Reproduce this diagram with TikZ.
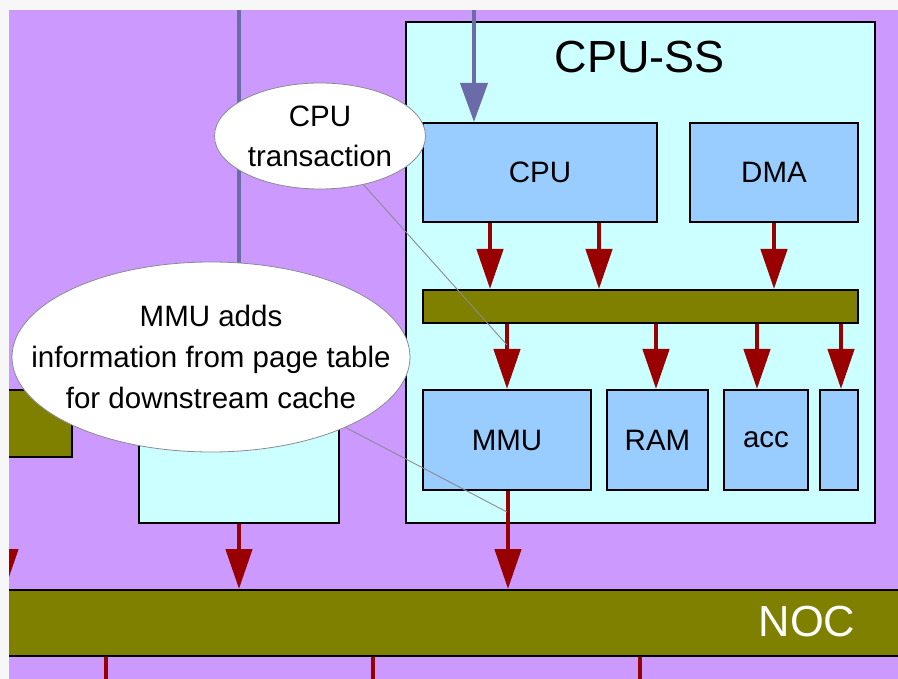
\documentclass[tikz,border=0pt]{standalone}
\usepackage{fontspec}
\setmainfont{Liberation Sans}
\usetikzlibrary{arrows.meta,shapes.geometric}
\definecolor{pagebg}{HTML}{F7F7F7}
\definecolor{lilac}{HTML}{CC99FF}
\definecolor{palecyan}{HTML}{CCFFFF}
\definecolor{skyblue}{HTML}{99CCFF}
\definecolor{olivebus}{HTML}{808000}
\definecolor{darkred}{HTML}{990000}
\definecolor{slate}{HTML}{6B6BA8}
\definecolor{notegray}{HTML}{8A8A95}
\begin{document}
\begin{tikzpicture}[x=1pt,y=-1pt,
  region/.style={draw=black, line width=2pt, fill=palecyan, inner sep=0pt},
  blk/.style={draw=black, line width=2pt, fill=skyblue, inner sep=0pt,
    font=\fontsize{29.5}{34}\selectfont},
  busbar/.style={draw=black, line width=2pt, fill=olivebus, inner sep=0pt},
  redarr/.style={draw=darkred, line width=4.5pt,
    -{Triangle[length=40pt,width=26pt]}},
  slatearr/.style={draw=slate, line width=4pt,
    -{Triangle[length=39pt,width=27pt]}},
  slateline/.style={draw=slate, line width=4pt},
  redline/.style={draw=darkred, line width=4.5pt},
  bubble/.style={ellipse, draw=notegray, line width=0.8pt, fill=white, inner sep=0pt},
  notetext/.style={align=center, inner sep=0pt},
  pointer/.style={draw=notegray, line width=0.9pt}]
\useasboundingbox (0,0) rectangle (898,679);
\fill[pagebg] (0,0) rectangle (898,679);
\begin{scope}
\clip (9,10) rectangle (898,679);
\fill[lilac] (9,10) rectangle (898,679);

% free ends of the incoming and outgoing lines
\coordinate (topL) at (239,10);
\coordinate (topC) at (474,10);
\coordinate (la) at (5,523);
\coordinate (b1) at (106,679);
\coordinate (b2) at (373,679);
\coordinate (b3) at (640,679);

% neighbouring blocks on the left
\node[region, minimum width=200pt, minimum height=193pt] (mem) at (239,426.5) {};
\node[busbar, minimum width=100pt, minimum height=67pt] (lbus) at (22,423.5) {};
\draw[slateline] (topL) -- (mem.north);

% CPU subsystem
\node[region, minimum width=469pt, minimum height=501pt] (cpuss) at (640.5,272.5) {};
\node[font=\fontsize{45}{50}\selectfont, inner sep=0pt] (sstitle) at (640,57) {CPU-SS};

\node[blk, minimum width=234pt, minimum height=99pt] (cpu) at (540,172.5) {CPU};
\node[blk, minimum width=168pt, minimum height=99pt] (dma) at (774,172.5) {DMA};
\node[busbar, minimum width=435pt, minimum height=33pt] (bus) at (640.5,306.5) {};
\node[blk, minimum width=168pt, minimum height=100pt] (mmu) at (507,440) {MMU};
\node[blk, minimum width=101pt, minimum height=100pt] (ram) at (657.5,440) {RAM};
\node[blk, minimum width=84pt, minimum height=100pt] (acc) at (766,440) {acc};
\node[blk, minimum width=38pt, minimum height=100pt] (ext) at (839,440) {};

\draw[slatearr] (topC) -- (474,0 |- cpu.north);

\draw[redarr] (490,0 |- cpu.south) -- (490,0 |- bus.north);
\draw[redarr] (599,0 |- cpu.south) -- (599,0 |- bus.north);
\draw[redarr] (774,0 |- dma.south) -- (774,0 |- bus.north);

\draw[redarr] (507,0 |- bus.south) -- (507,0 |- mmu.north);
\draw[redarr] (656,0 |- bus.south) -- (656,0 |- ram.north);
\draw[redarr] (757,0 |- bus.south) -- (757,0 |- acc.north);
\draw[redarr] (841,0 |- bus.south) -- (841,0 |- ext.north);

% network on chip
\node[busbar, minimum width=920pt, minimum height=66pt] (noc) at (450,623) {};
\node[text=white, font=\fontsize{43.5}{48}\selectfont, inner sep=0pt] (noclbl) at (807,622) {NOC};

\draw[redarr] (508,0 |- mmu.south) -- (508,0 |- noc.north);
\draw[redarr] (239,0 |- mem.south) -- (239,0 |- noc.north);
\draw[redarr] (la) -- (5,0 |- noc.north);

\draw[redline] (106,0 |- noc.south) -- (b1);
\draw[redline] (373,0 |- noc.south) -- (b2);
\draw[redline] (640,0 |- noc.south) -- (b3);

% call-outs
\coordinate (p1) at (507,345);
\coordinate (p2) at (507,512);
\node[bubble, minimum width=211pt, minimum height=106pt] (note1) at (320,136) {};
\node[notetext, font=\fontsize{29.5}{40}\selectfont] at (note1.center) {CPU\\transaction};
\node[bubble, minimum width=398pt, minimum height=190pt] (note2) at (211,357) {};
\node[notetext, font=\fontsize{29.5}{41}\selectfont] at (note2.center)
  {MMU adds\\information from page table\\for downstream cache};
\draw[pointer] (note1) -- (p1);
\draw[pointer] (note2) -- (p2);
\end{scope}
\end{tikzpicture}
\end{document}
